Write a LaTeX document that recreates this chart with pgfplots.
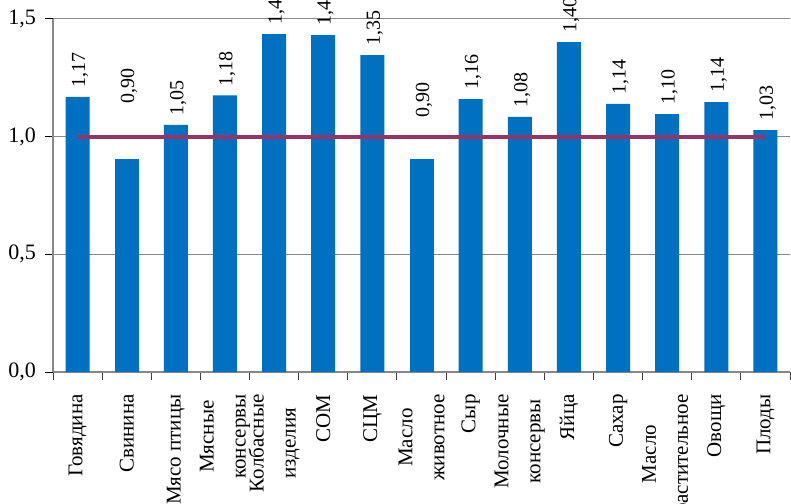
\documentclass[border=0pt]{standalone}
\usepackage{fontspec}
\setmainfont{Liberation Serif}
\usepackage{pgfplots}
\pgfplotsset{compat=1.18}
\definecolor{barblue}{HTML}{0070C0}
\definecolor{plum}{HTML}{993366}
\definecolor{gridgray}{HTML}{888888}
\begin{document}
\begin{tikzpicture}
\useasboundingbox (-26.5pt,-65.5pt) rectangle (369pt,186pt);
\clip (-26.5pt,-65.5pt) rectangle (369pt,186pt);
\begin{axis}[
  at={(0,0)}, anchor=south west,
  scale only axis, width=368.5pt, height=176.5pt,
  xmin=-0.5, xmax=14.5, ymin=0, ymax=1.5,
  axis x line*=bottom, axis y line*=left,
  axis line style={gridgray, line width=0.6pt},
  xtick={0,...,14},
  major x tick style={draw=none},
  minor xtick={-0.5,0.5,...,14.5},
  minor x tick style={draw=black!75, line width=0.5pt},
  minor tick length=4pt,
  ytick={0,0.5,1,1.5},
  ytick style={draw=black, line width=0.5pt},
  major tick length=4pt,
  tick align=outside,
  ymajorgrids, grid style={gridgray, line width=0.5pt},
  /pgf/number format/assume math mode=true,
  yticklabel={\pgfmathprintnumber[fixed,fixed zerofill,precision=1,use comma]{\tick}},
  yticklabel style={font=\fontsize{11}{12}\selectfont, xshift=-1pt},
  xticklabels={Говядина, Свинина, Мясо птицы, {Мясные\\консервы}, {Колбасные\\изделия}, СОМ, СЦМ, {Масло\\животное}, Сыр, {Молочные\\консервы}, Яйца, Сахар, {Масло\\растительное}, Овощи, Плоды},
  xticklabel style={font=\fontsize{10.5}{16}\selectfont, rotate=90, anchor=east, align=center, inner sep=0pt, xshift=-7pt},
  clip=false,
  barstyle/.style={ybar, bar width=12pt, bar shift=0pt, fill=barblue, draw=none,
    nodes near coords, point meta=explicit symbolic},
  lbl/.style={every node near coord/.append style={font=\fontsize{10}{12}\selectfont, rotate=90, anchor=west, inner sep=0pt, xshift=#1, yshift=-1.2pt, black}},
]
\addplot[barstyle, lbl=4.5pt] coordinates {
(0,1.169) [1,17]
(2,1.050) [1,05]
(3,1.175) [1,18]
(4,1.436) [1,44]
(5,1.432) [1,43]
(6,1.347) [1,35]
(8,1.160) [1,16]
(9,1.084) [1,08]
(10,1.402) [1,40]
(11,1.139) [1,14]
(12,1.096) [1,10]
(13,1.147) [1,14]
(14,1.028) [1,03]
};
\addplot[barstyle, lbl=27.5pt] coordinates {(1,0.905) [0,90]};
\addplot[barstyle, lbl=20.5pt] coordinates {(7,0.905) [0,90]};
\addplot[sharp plot, plum, line width=2pt, mark=none] coordinates {(0,1) (14,1)};
\end{axis}
\end{tikzpicture}
\end{document}
